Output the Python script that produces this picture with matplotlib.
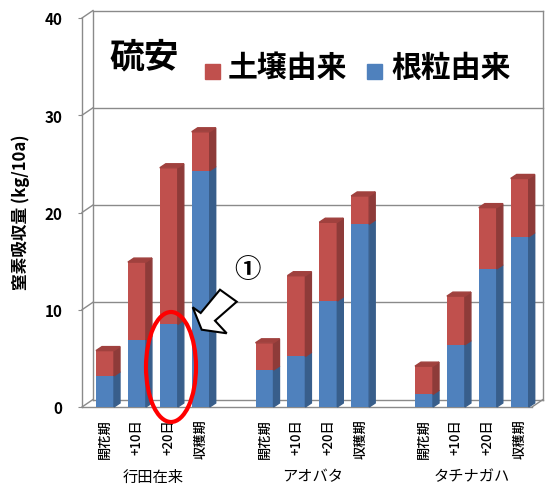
import matplotlib
matplotlib.use("Agg")
import matplotlib.pyplot as plt
from matplotlib.patches import Polygon, Ellipse
import numpy as np

plt.rcParams['font.family'] = ['Noto Sans CJK JP', 'DejaVu Sans']

# data (kg/10a)
varieties = ['行田在来', 'アオバタ', 'タチナガハ']
stages = ['開花期', '+10日', '+20日', '収穫期']
root = [3.2, 6.9, 8.5, 24.3,
        3.8, 5.2, 10.9, 18.8,
        1.3, 6.4, 14.2, 17.5]          # 根粒由来
total = [5.8, 14.9, 24.6, 28.3,
         6.6, 13.5, 19.0, 21.7,
         4.2, 11.4, 20.5, 23.5]
soil = [t - r for t, r in zip(total, root)]   # 土壌由来

W, H = 547, 485
fig = plt.figure(figsize=(W / 100, H / 100), dpi=100)

def fx(x):
    return x / W

def fy(y):
    return 1 - y / H

# axes = front plane of the 3D box
ax = fig.add_axes([fx(82), fy(408), (532 - 82) / W, (408 - 19) / H])
ppx = 31.9      # px per slot
ppy = 9.725     # px per kg
ax.set_xlim((82 - 105) / ppx, (532 - 105) / ppx)
ax.set_ylim(0, 40)
for s in ax.spines.values():
    s.set_visible(False)

xl, xr = ax.get_xlim()
dxw, dyw = 11 / ppx, 7.5 / ppy     # wall depth
dxb, dyb = 6 / ppx, 4 / ppy        # bar depth
grid_c = '#8a8a8a'

# walls / gridlines
for v in [0, 10, 20, 30, 40]:
    ax.plot([xl, xl + dxw], [v, v + dyw], color=grid_c, lw=1, clip_on=False)
    ax.plot([xl + dxw, xr + dxw], [v + dyw, v + dyw], color=grid_c, lw=1, clip_on=False)
ax.plot([xl, xl], [0, 40], color=grid_c, lw=1, clip_on=False)
ax.plot([xl + dxw, xl + dxw], [dyw, 40 + dyw], color=grid_c, lw=1, clip_on=False)
ax.plot([xr + dxw, xr + dxw], [dyw, 40 + dyw], color=grid_c, lw=1, clip_on=False)
ax.plot([xl, xr], [0, 0], color=grid_c, lw=1, clip_on=False)
ax.plot([xr, xr + dxw], [0, dyw], color=grid_c, lw=1, clip_on=False)

# bars
xs = np.array([g * 5 + i for g in range(3) for i in range(4)], dtype=float)
bw = 18 / ppx
red, red_side, red_top = '#C0504D', '#8E3B39', '#A0413E'
blue, blue_side = '#4F81BD', '#385E8B'

ax.bar(xs, root, width=bw, color=blue, zorder=3)
ax.bar(xs, soil, width=bw, bottom=root, color=red, zorder=3)
for x, r, t in zip(xs, root, total):
    x1 = x + bw / 2
    x0 = x - bw / 2
    ax.add_patch(Polygon([(x1, 0), (x1 + dxb, dyb), (x1 + dxb, r + dyb), (x1, r)],
                         closed=True, color=blue_side, zorder=3, clip_on=False))
    ax.add_patch(Polygon([(x1, r), (x1 + dxb, r + dyb), (x1 + dxb, t + dyb), (x1, t)],
                         closed=True, color=red_side, zorder=3, clip_on=False))
    ax.add_patch(Polygon([(x0, t), (x1, t), (x1 + dxb, t + dyb), (x0 + dxb, t + dyb)],
                         closed=True, color=red_top, zorder=3, clip_on=False))

# ticks
ax.set_yticks([0, 10, 20, 30, 40])
ax.tick_params(axis='y', length=3, color=grid_c, pad=11, labelsize=11)
for lab in ax.get_yticklabels():
    lab.set_fontweight('bold')
ax.set_xticks(xs)
ax.set_xticklabels(stages * 3, rotation=90, fontsize=9.5, fontweight='medium')
ax.tick_params(axis='x', length=0, pad=8)

for g, name in enumerate(varieties):
    ax.text(g * 5 + 1.5, -7.1, name, ha='center', va='center', fontsize=11, clip_on=False)

fig.text(fx(21), fy(212), '窒素吸収量 (kg/10a)', rotation=90, ha='center', va='center',
         fontsize=12, fontweight='bold')

# legend-like title
fig.text(fx(109), fy(57), '硫安', ha='left', va='center', fontsize=25, fontweight='bold')
fig.patches.append(plt.Rectangle((fx(205), fy(80)), 15 / W, 15 / H, color=red,
                                 transform=fig.transFigure, figure=fig))
fig.text(fx(228), fy(68), '土壌由来', ha='left', va='center', fontsize=21.5, fontweight='bold')
fig.patches.append(plt.Rectangle((fx(367), fy(80)), 15 / W, 15 / H, color=blue,
                                 transform=fig.transFigure, figure=fig))
fig.text(fx(391), fy(68), '根粒由来', ha='left', va='center', fontsize=21.5, fontweight='bold')

# annotations
fig.text(fx(247), fy(270), '①', ha='center', va='center', fontsize=19, fontweight='bold')
arrow_px = [(220, 290.7), (236.7, 302.7), (215, 321.7), (226.7, 334.3),
            (201.7, 330.7), (192.7, 308.3), (200.7, 314)]
fig.patches.append(Polygon([(fx(a), fy(b)) for a, b in arrow_px], closed=True,
                           facecolor='white', edgecolor='black', lw=1.5,
                           transform=fig.transFigure, figure=fig, zorder=5))
fig.patches.append(Ellipse((fx(171), fy(368)), 50 / W, 110 / H, fill=False,
                           edgecolor='#FF0000', lw=3, transform=fig.transFigure,
                           figure=fig, zorder=5))

fig.savefig('out.png', dpi=100)
